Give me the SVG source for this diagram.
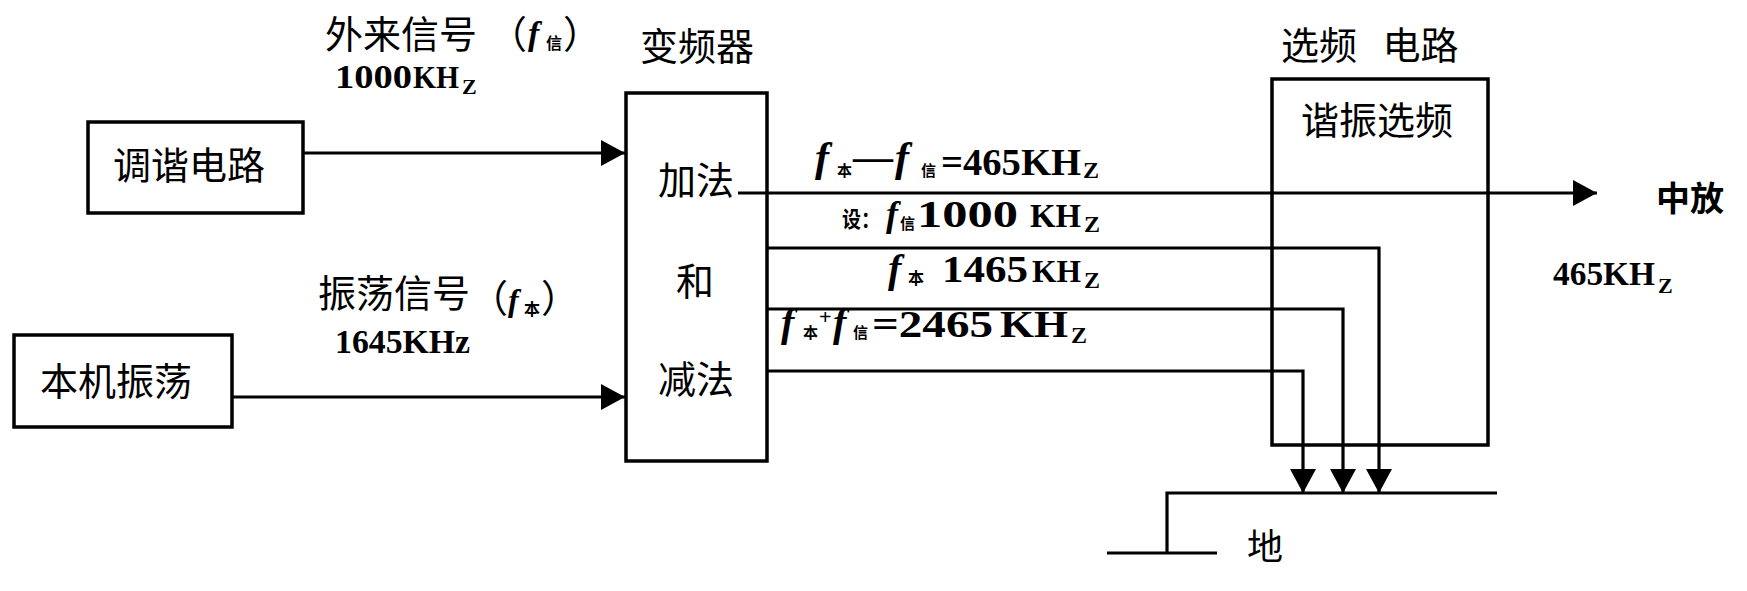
<svg xmlns="http://www.w3.org/2000/svg" width="1747" height="591" viewBox="0 0 1747 591">
<defs>
<style>
.box{fill:none;stroke:#000;stroke-width:3.5}
.ln{fill:none;stroke:#000;stroke-width:3.2}
.cjk{font-family:'Noto Sans CJK SC',sans-serif;fill:#000}
.cjkb{font-family:'Noto Sans CJK SC',sans-serif;font-weight:bold;fill:#000}
.num{font-family:'Liberation Serif',serif;font-weight:bold;font-style:normal;fill:#000}
.fi{font-family:'Liberation Serif',serif;font-weight:bold;font-style:italic;fill:#000}
</style>
<marker id="arr" markerUnits="userSpaceOnUse" markerWidth="24" markerHeight="26" refX="24" refY="13" orient="auto">
<path d="M0,0 L24,13 L0,26 Z" fill="#000"/>
</marker>
</defs>
<rect width="1747" height="591" fill="#fff"/>

<g id="tuning">
<rect class="box" x="88" y="122" width="215" height="91"/>
<text class="cjk" x="113" y="179" font-size="38">调谐电路</text>
</g>

<g id="local-osc">
<rect class="box" x="14" y="335" width="218" height="92"/>
<text class="cjk" x="40" y="395" font-size="38">本机振荡</text>
</g>

<g id="mixer">
<text class="cjk" x="640" y="60" font-size="38">变频器</text>
<rect class="box" x="626" y="93" width="141" height="368"/>
<text class="cjk" x="658" y="194" font-size="38">加法</text>
<text class="cjk" x="676" y="295" font-size="38">和</text>
<text class="cjk" x="658" y="393" font-size="38">减法</text>
</g>

<g id="selector">
<text class="cjk" x="1281" y="59" font-size="38" word-spacing="17">选频 电路</text>
<rect class="box" x="1272" y="79" width="216" height="366"/>
<text class="cjk" x="1301" y="134" font-size="38">谐振选频</text>
</g>

<g id="label-ext">
<text class="cjk" font-size="38"><tspan x="325" y="48">外来信号</tspan><tspan x="489" y="48">（</tspan><tspan class="fi" x="528" y="45" font-size="34">f</tspan><tspan class="cjkb" x="546" y="49" font-size="16">信</tspan><tspan x="563" y="48">）</tspan><tspan class="num" x="335" y="88" font-size="33" textLength="77" lengthAdjust="spacingAndGlyphs">1000</tspan><tspan class="num" x="413" y="88" font-size="31" textLength="46" lengthAdjust="spacingAndGlyphs">KH</tspan><tspan class="num" x="462" y="94" font-size="22">Z</tspan></text>
</g>

<g id="label-osc">
<text class="cjk" font-size="38"><tspan x="318" y="307">振荡信号</tspan><tspan x="470" y="312">（</tspan><tspan class="fi" x="508" y="311" font-size="32">f</tspan><tspan class="cjkb" x="524" y="315" font-size="16">本</tspan><tspan x="541" y="312">）</tspan><tspan class="num" x="335" y="353" font-size="34" textLength="135" lengthAdjust="spacingAndGlyphs">1645KHz</tspan></text>
</g>

<g id="connectors">
<line class="ln" x1="303" y1="153" x2="625" y2="153" marker-end="url(#arr)"/>
<line class="ln" x1="232" y1="397" x2="625" y2="397" marker-end="url(#arr)"/>
<line class="ln" x1="738" y1="193" x2="1597" y2="193" marker-end="url(#arr)"/>
<path class="ln" d="M767,248 H1379 V493" marker-end="url(#arr)"/>
<path class="ln" d="M767,309 H1343 V493" marker-end="url(#arr)"/>
<path class="ln" d="M767,371 H1303 V493" marker-end="url(#arr)"/>
</g>

<g id="ground">
<path class="ln" d="M1497,493 H1167 V553"/>
<line class="ln" x1="1107" y1="553" x2="1217" y2="553"/>
<text class="cjk" x="1247" y="560" font-size="36">地</text>
</g>

<g id="f1">
<text class="num" font-size="38"><tspan class="fi" x="815" y="171" font-size="42">f</tspan><tspan class="cjkb" x="837" y="176" font-size="15">本</tspan><tspan x="853" y="170" font-size="40">—</tspan><tspan class="fi" x="895" y="171" font-size="42">f</tspan><tspan class="cjkb" x="921" y="176" font-size="15">信</tspan><tspan x="941" y="175" textLength="140" lengthAdjust="spacingAndGlyphs">=465KH</tspan><tspan x="1083" y="178" font-size="24">Z</tspan></text>
</g>

<g id="f2">
<text class="num" font-size="38"><tspan class="cjkb" x="842" y="227" font-size="22" textLength="38" lengthAdjust="spacingAndGlyphs">设：</tspan><tspan class="fi" x="886" y="226" font-size="36">f</tspan><tspan class="cjkb" x="900" y="229" font-size="15">信</tspan><tspan x="917" y="227" textLength="101" lengthAdjust="spacingAndGlyphs">1000</tspan><tspan x="1030" y="227" font-size="34" textLength="51" lengthAdjust="spacingAndGlyphs">KH</tspan><tspan x="1084" y="232" font-size="24">Z</tspan></text>
</g>

<g id="f3">
<text class="num" font-size="38"><tspan class="fi" x="888" y="282" font-size="40">f</tspan><tspan class="cjkb" x="908" y="284" font-size="16">本</tspan><tspan x="942" y="282" textLength="86" lengthAdjust="spacingAndGlyphs">1465</tspan><tspan x="1032" y="282" font-size="32.5" textLength="49" lengthAdjust="spacingAndGlyphs">KH</tspan><tspan x="1084" y="288" font-size="24">Z</tspan></text>
</g>

<g id="f4">
<text class="num" font-size="38"><tspan class="fi" x="781" y="336" font-size="40">f</tspan><tspan class="cjkb" x="803" y="338" font-size="15">本</tspan><tspan x="819" y="324" font-size="22">+</tspan><tspan class="fi" x="833" y="336" font-size="40">f</tspan><tspan class="cjkb" x="853" y="338" font-size="15">信</tspan><tspan x="872" y="337" textLength="121" lengthAdjust="spacingAndGlyphs">=2465</tspan><tspan x="1000" y="337" textLength="68" lengthAdjust="spacingAndGlyphs">KH</tspan><tspan x="1071" y="343" font-size="24">Z</tspan></text>
</g>

<g id="output">
<text class="cjkb" x="1656" y="211" font-size="34">中放</text>
<text class="num" font-size="34"><tspan x="1553" y="285" textLength="102" lengthAdjust="spacingAndGlyphs">465KH</tspan><tspan x="1658" y="293" font-size="22">Z</tspan></text>
</g>
</svg>
